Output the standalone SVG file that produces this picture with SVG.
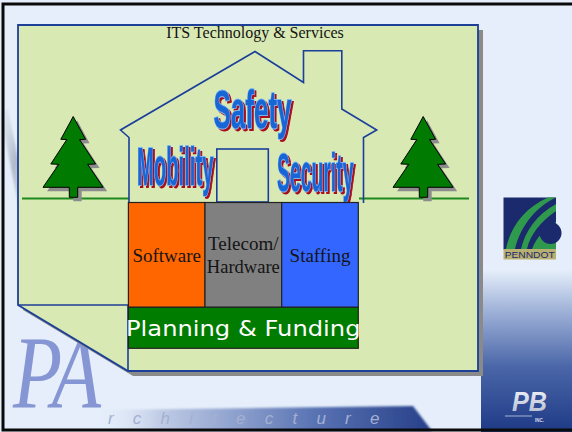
<svg xmlns="http://www.w3.org/2000/svg" width="572" height="432" viewBox="0 0 572 432">
  <defs>
    <style>
      .serif { font-family: "Liberation Serif", "Times New Roman", serif; fill: #141414; }
      .word { font-family: "Liberation Sans", Arial, sans-serif; font-weight: bold; font-size: 54.5px;
              fill: #1766d6; stroke: #7db4f2; stroke-width: 1.8; paint-order: stroke; }
      .house { fill: none; stroke: #1a3f9a; stroke-width: 1.6; stroke-linejoin: miter; }
      .ground { stroke: #1e8a1e; stroke-width: 1.8; }
      .tree { fill: #007a00; stroke: #000; stroke-width: 1; stroke-linejoin: miter; }
      .tree-shadow { fill: #8c8c8c; }
      .box { stroke: #222; stroke-width: 1.2; }
    </style>
    <!-- dark red drop shadow under the word-art lettering -->
    <filter id="wordShadow" x="-3%" y="-3%" width="106%" height="106%">
      <feOffset in="SourceAlpha" dx="2" dy="2.2" result="off"/>
      <feFlood flood-color="#a8101c"/>
      <feComposite in2="off" operator="in" result="shadow"/>
      <feMerge>
        <feMergeNode in="shadow"/>
        <feMergeNode in="SourceGraphic"/>
      </feMerge>
    </filter>
    <linearGradient id="stripGrad" x1="0" y1="0" x2="0" y2="1">
      <stop offset="0" stop-color="#e5eefa"/>
      <stop offset="0.25" stop-color="#9fb2d8"/>
      <stop offset="0.6" stop-color="#4a66a8"/>
      <stop offset="1" stop-color="#1f3a86"/>
    </linearGradient>
    <linearGradient id="bandGrad" x1="0" y1="0" x2="1" y2="0">
      <stop offset="0" stop-color="#e5eefa" stop-opacity="0"/>
      <stop offset="0.2" stop-color="#c0cce6"/>
      <stop offset="0.65" stop-color="#5a74b4"/>
      <stop offset="1" stop-color="#263f88"/>
    </linearGradient>
    <linearGradient id="streakGrad" x1="0" y1="0" x2="1" y2="1">
      <stop offset="0" stop-color="#b8bfcc" stop-opacity="0"/>
      <stop offset="0.5" stop-color="#9aa2b4" stop-opacity="0.7"/>
      <stop offset="1" stop-color="#b8bfcc" stop-opacity="0"/>
    </linearGradient>
    <linearGradient id="pbGrad" x1="0" y1="0" x2="0" y2="1">
      <stop offset="0" stop-color="#f4f6fb"/>
      <stop offset="1" stop-color="#aeb6cc"/>
    </linearGradient>
    <filter id="soft" x="-10%" y="-50%" width="120%" height="200%">
      <feGaussianBlur stdDeviation="1.2"/>
    </filter>
    <g id="treeShape">
      <polygon points="73.2,116.5 85.6,139.3 79.6,139.6 95.6,164 87.6,164.3 103.2,187.3 77.7,187.3 77.7,197.3 69.3,197.3 69.3,187.3 43,187.3 58.8,164.3 50.8,164 66.8,139.6 60.8,139.3"/>
    </g>
  </defs>

  <!-- slide background -->
  <g id="background">
    <rect x="0" y="0" width="572" height="432" fill="#e5eefa"/>
    <polygon points="0,110 8,110 30,215 20,215" fill="url(#streakGrad)" filter="url(#soft)"/>
    <rect x="481" y="270" width="91" height="162" fill="url(#stripGrad)"/>
    <!-- lower logo band -->
    <polygon points="92,410 413,406 432,431 92,431" fill="url(#bandGrad)" filter="url(#soft)"/>
    <text x="13" y="408" font-family="Liberation Serif, serif" font-style="italic" font-size="104" fill="#7686cc" fill-opacity="0.85" textLength="88" lengthAdjust="spacingAndGlyphs">PA</text>
    <text x="108" y="424" font-family="Liberation Sans, Arial, sans-serif" font-style="italic" font-size="17" fill="#a4b0d2" letter-spacing="19.2">rchitecture</text>
    <rect x="3" y="4" width="572" height="426" fill="none" stroke="#0a0a0a" stroke-width="3"/>
  </g>

  <!-- green panel with folded corner -->
  <g id="panel">
    <polygon points="23,30 483,30 483,376 133,376 23,310" fill="#8a8a8a"/>
    <polygon points="18,25 478,25 478,371 128,371 18,305" fill="#d9e9b4" stroke="#1c3f98" stroke-width="1.8"/>
    <polyline points="18,305 128,305 128,371" fill="none" stroke="#1c3f98" stroke-width="1.6"/>
    <text class="serif" x="255" y="38" font-size="16" text-anchor="middle">ITS Technology &amp; Services</text>
  </g>

  <!-- ground lines -->
  <g id="ground">
    <line class="ground" x1="22" y1="198.5" x2="129" y2="198.5"/>
    <line class="ground" x1="359" y1="198.5" x2="469" y2="198.5"/>
  </g>

  <!-- trees -->
  <g id="tree-left">
    <use href="#treeShape" class="tree-shadow" transform="translate(4,4)"/>
    <use href="#treeShape" class="tree"/>
  </g>
  <g id="tree-right">
    <use href="#treeShape" class="tree-shadow" transform="translate(354,4)"/>
    <use href="#treeShape" class="tree" transform="translate(350,0)"/>
  </g>

  <!-- house outline -->
  <g id="house">
    <polyline class="house" points="129,202 129,137.5 120.5,130 255,51.5 303.5,82.5 303.5,50.8 341.8,50.8 341.8,109 376.7,130 363.5,137.5 363.5,203"/>
    <rect class="house" x="216.8" y="149" width="51.5" height="53"/>
  </g>

  <!-- values written on the house: bold lettering squeezed horizontally -->
  <g id="values" filter="url(#wordShadow)">
    <text id="safety" class="word" transform="translate(213.5,128.3) scale(0.477,1)">Safety</text>
    <text id="mobility" class="word" transform="translate(137,185) scale(0.3715,1)">Mobility</text>
    <text id="security" class="word" transform="translate(277,190.5) scale(0.3557,1)">Security</text>
  </g>

  <!-- foundation blocks -->
  <g id="software">
    <rect class="box" x="128.4" y="202.5" width="76.6" height="104.8" fill="#ff6600"/>
    <text class="serif" x="166.7" y="261.7" font-size="19" text-anchor="middle">Software</text>
  </g>
  <g id="telecom">
    <rect class="box" x="205" y="202.5" width="76.7" height="104.8" fill="#808080"/>
    <text class="serif" x="243.3" y="250" font-size="19" text-anchor="middle">Telecom/</text>
    <text class="serif" x="243.3" y="273.3" font-size="19" text-anchor="middle" textLength="73" lengthAdjust="spacingAndGlyphs">Hardware</text>
  </g>
  <g id="staffing">
    <rect class="box" x="281.7" y="202.5" width="76.6" height="104.8" fill="#3366ff"/>
    <text class="serif" x="320" y="261.7" font-size="19" text-anchor="middle">Staffing</text>
  </g>
  <g id="planning">
    <rect class="box" x="128.4" y="307.3" width="229.9" height="41" fill="#007c00"/>
    <text x="126" y="335.5" font-family="DejaVu Sans, Verdana, sans-serif" font-size="21.5" fill="#ffffff" textLength="234.5" lengthAdjust="spacingAndGlyphs">Planning &amp; Funding</text>
  </g>

  <!-- PennDOT logo -->
  <g id="penndot-logo">
    <rect x="503.5" y="197.5" width="52.5" height="52" fill="#1b2a6c"/>
    <path d="M506,249 C510,228 524,208 548,197.5 L556,197.5 C534,208 520,228 515,249 Z" fill="#2f9a4e"/>
    <path d="M521,249 C525,232 536,215 556,204 L556,211 C541,221 530,235 527,249 Z" fill="#2f9a4e"/>
    <path d="M532,249 C536,238 545,228 556,222 L556,249 Z" fill="#2f9a4e"/>
    <circle cx="550.5" cy="233" r="11" fill="#1b2a6c"/>
    <rect x="503.5" y="249" width="52.5" height="10.5" fill="#b8b070"/>
    <text x="529.7" y="258" font-family="Liberation Sans, Arial, sans-serif" font-size="8.5" fill="#1b2a6c" text-anchor="middle" textLength="50" lengthAdjust="spacingAndGlyphs">PENNDOT</text>
  </g>

  <!-- PB logo -->
  <g id="pb-logo">
    <text x="512" y="411" font-family="Liberation Sans, Arial, sans-serif" font-weight="bold" font-style="italic" font-size="27" fill="url(#pbGrad)" textLength="35" lengthAdjust="spacingAndGlyphs">PB</text>
    <line x1="505" y1="416" x2="532" y2="416" stroke="#c8d0e4" stroke-width="0.8"/>
    <text x="535" y="421.5" font-family="Liberation Sans, Arial, sans-serif" font-weight="bold" font-size="4.5" fill="#d8dce8">INC.</text>
  </g>
</svg>
